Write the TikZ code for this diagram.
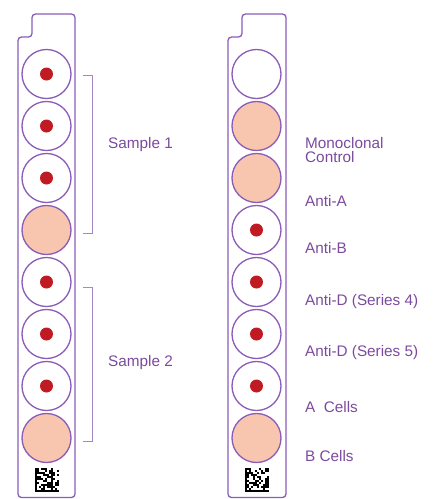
\documentclass[tikz,border=0pt]{standalone}
\usepackage{fontspec}
\setmainfont{Liberation Sans}
\definecolor{strip}{HTML}{8A5CB8}
\definecolor{brk}{HTML}{A585C4}
\definecolor{txt}{HTML}{7B4A9E}
\definecolor{peach}{HTML}{F8C6AE}
\definecolor{dotred}{HTML}{C01A22}
\tikzset{
  well/.style={circle, draw=strip, line width=1.3pt, minimum size=49pt, inner sep=0pt},
  peachwell/.style={well, fill=peach},
  dot/.style={circle, fill=dotred, minimum size=13pt, inner sep=0pt},
  stripline/.style={draw=strip, line width=1.3pt, rounded corners=3.5pt},
  bracket/.style={draw=brk, line width=0.9pt},
  lbl/.style={text=txt, font=\fontsize{15.3}{16}\selectfont, anchor=west, inner sep=0pt, align=left}
}
\newcommand{\barcode}[2]{%
  \begin{scope}[shift={(#1,#2)}]
    \pgfmathsetseed{#1}
    \foreach \i in {0,...,11}{
      \foreach \j in {0,...,11}{
        \pgfmathsetmacro{\r}{rnd}
        \ifdim \r pt > 0.5pt
          \fill[black] (\i*2,\j*2) rectangle ++(2,2);
        \fi
      }
    }
    \fill[black] (0,0) rectangle (2,24);
    \fill[black] (0,22) rectangle (24,24);
  \end{scope}}
\begin{document}
\begin{tikzpicture}[x=1pt,y=-1pt]
\useasboundingbox (0,0) rectangle (433,499);
% strips
\draw[stripline] (18,37) -- (32,37) -- (32,14) -- (75,14) -- (75,497.5) -- (18,497.5) -- cycle;
\draw[stripline] (228,37) -- (242,37) -- (242,14) -- (286,14) -- (286,497.5) -- (228,497.5) -- cycle;
% left wells
\foreach \k/\t in {1/d,2/d,3/d,4/p,5/d,6/d,7/d,8/p}{
  \pgfmathsetmacro{\yy}{74+(\k-1)*52}
  \if\t p
    \node[peachwell] (L\k) at (46.5,\yy) {};
  \else
    \node[well] (L\k) at (46.5,\yy) {};
    \node[dot] (LD\k) at (L\k.center) {};
  \fi
}
% right wells
\foreach \k/\t in {1/w,2/p,3/p,4/d,5/d,6/d,7/d,8/p}{
  \pgfmathsetmacro{\yy}{74+(\k-1)*52}
  \if\t p
    \node[peachwell] (R\k) at (256.5,\yy) {};
  \else
    \node[well] (R\k) at (256.5,\yy) {};
    \if\t d
      \node[dot] (RD\k) at (R\k.center) {};
    \fi
  \fi
}
% barcodes
\barcode{35}{468}
\barcode{245}{468}
% brackets
\draw[bracket] (83,75) -- (92,75) -- (92,233) -- (83,233);
\draw[bracket] (83,287) -- (92,287) -- (92,441) -- (83,441);
% labels
\node[lbl] (s1) at (108,145) {Sample 1};
\node[lbl] (s2) at (108,363) {Sample 2};
\node[lbl] (m) at (305,150.5) {Monoclonal\\[-2pt]Control};
\node[lbl] (a) at (305,201) {Anti-A};
\node[lbl] (b) at (305,248) {Anti-B};
\node[lbl] (d4) at (305,302) {Anti-D (Series 4)};
\node[lbl] (d5) at (305,353) {Anti-D (Series 5)};
\node[lbl] (ac) at (305,407) {A\ \ Cells};
\node[lbl] (bc) at (305,456) {B Cells};
\end{tikzpicture}
\end{document}
